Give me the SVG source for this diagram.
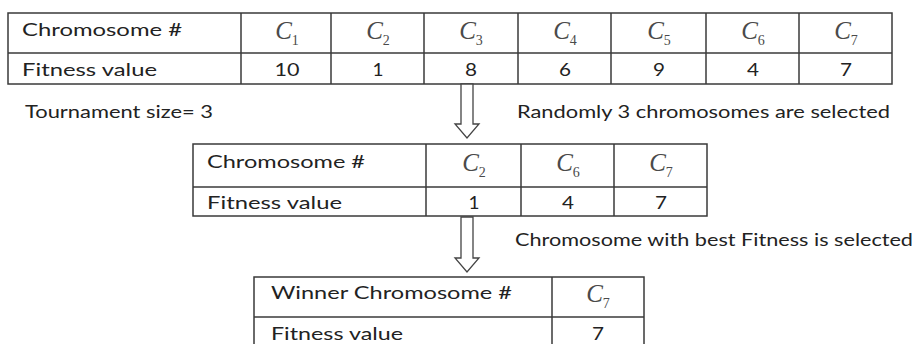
<svg xmlns="http://www.w3.org/2000/svg" width="919" height="344" viewBox="0 0 919 344">
<style>
.cell{fill:#ffffff;stroke:#3a3a3a;stroke-width:1.5}
.ln{stroke:#3a3a3a;stroke-width:1.5;fill:none}
.t{font-family:Lato,"Liberation Sans",sans-serif;font-size:18px;fill:#222222}
.n{font-family:Lato,"Liberation Sans",sans-serif;font-size:18px;fill:#222222;text-anchor:middle}
.c{font-family:"Liberation Serif","Times New Roman",serif;font-style:italic;font-size:25px;fill:#4a4a4a;text-anchor:middle}
.s{font-style:normal;font-size:14px}
.arrow{fill:#ffffff;stroke:#444444;stroke-width:1.3;stroke-linejoin:miter}
</style>
<rect width="919" height="344" fill="#ffffff"/>

<g id="table-population">
<rect class="cell" x="8" y="13" width="884" height="71"/>
<line class="ln" x1="8" y1="53" x2="892" y2="53"/>
<line class="ln" x1="241" y1="13" x2="241" y2="84"/>
<line class="ln" x1="331" y1="13" x2="331" y2="84"/>
<line class="ln" x1="424" y1="13" x2="424" y2="84"/>
<line class="ln" x1="518" y1="13" x2="518" y2="84"/>
<line class="ln" x1="611" y1="13" x2="611" y2="84"/>
<line class="ln" x1="706" y1="13" x2="706" y2="84"/>
<line class="ln" x1="799" y1="13" x2="799" y2="84"/>
<text class="t" x="22" y="36" textLength="160" lengthAdjust="spacingAndGlyphs">Chromosome #</text>
<text class="t" x="22" y="76" textLength="135" lengthAdjust="spacingAndGlyphs">Fitness value</text>
<text class="c" x="287" y="39">C<tspan class="s" dy="6">1</tspan></text>
<text class="c" x="378" y="39">C<tspan class="s" dy="6">2</tspan></text>
<text class="c" x="471" y="39">C<tspan class="s" dy="6">3</tspan></text>
<text class="c" x="565" y="39">C<tspan class="s" dy="6">4</tspan></text>
<text class="c" x="659" y="39">C<tspan class="s" dy="6">5</tspan></text>
<text class="c" x="753" y="39">C<tspan class="s" dy="6">6</tspan></text>
<text class="c" x="846" y="39">C<tspan class="s" dy="6">7</tspan></text>
<text class="n" x="287" y="76" textLength="25" lengthAdjust="spacingAndGlyphs">10</text>
<text class="n" x="378" y="76" textLength="11" lengthAdjust="spacingAndGlyphs">1</text>
<text class="n" x="471" y="76" textLength="12" lengthAdjust="spacingAndGlyphs">8</text>
<text class="n" x="565" y="76" textLength="12" lengthAdjust="spacingAndGlyphs">6</text>
<text class="n" x="659" y="76" textLength="12" lengthAdjust="spacingAndGlyphs">9</text>
<text class="n" x="753" y="76" textLength="12" lengthAdjust="spacingAndGlyphs">4</text>
<text class="n" x="846" y="76" textLength="12" lengthAdjust="spacingAndGlyphs">7</text>
</g>

<g id="table-tournament">
<rect class="cell" x="193" y="144" width="514" height="72"/>
<line class="ln" x1="193" y1="187" x2="707" y2="187"/>
<line class="ln" x1="426" y1="144" x2="426" y2="216"/>
<line class="ln" x1="521" y1="144" x2="521" y2="216"/>
<line class="ln" x1="614" y1="144" x2="614" y2="216"/>
<text class="t" x="207" y="168" textLength="158" lengthAdjust="spacingAndGlyphs">Chromosome #</text>
<text class="t" x="207" y="209" textLength="135" lengthAdjust="spacingAndGlyphs">Fitness value</text>
<text class="c" x="474" y="171">C<tspan class="s" dy="6">2</tspan></text>
<text class="c" x="568" y="171">C<tspan class="s" dy="6">6</tspan></text>
<text class="c" x="661" y="171">C<tspan class="s" dy="6">7</tspan></text>
<text class="n" x="474" y="209" textLength="11" lengthAdjust="spacingAndGlyphs">1</text>
<text class="n" x="568" y="209" textLength="12" lengthAdjust="spacingAndGlyphs">4</text>
<text class="n" x="661" y="209" textLength="12" lengthAdjust="spacingAndGlyphs">7</text>
</g>

<g id="table-winner">
<rect class="cell" x="254" y="277" width="390" height="72"/>
<line class="ln" x1="254" y1="317" x2="644" y2="317"/>
<line class="ln" x1="552" y1="277" x2="552" y2="349"/>
<text class="t" x="271" y="299" textLength="241" lengthAdjust="spacingAndGlyphs">Winner Chromosome #</text>
<text class="t" x="271" y="340" textLength="132" lengthAdjust="spacingAndGlyphs">Fitness value</text>
<text class="c" x="598" y="302">C<tspan class="s" dy="6">7</tspan></text>
<text class="n" x="598" y="340" textLength="12" lengthAdjust="spacingAndGlyphs">7</text>
</g>

<g id="connectors">
<path class="arrow" d="M461,84 L473,84 L473,124 L479,124 L467,138 L455,124 L461,124 Z"/>
<path class="arrow" d="M461,217 L473,217 L473,258 L479,258 L467,272 L455,258 L461,258 Z"/>
</g>

<g id="labels">
<text class="t" x="25" y="118" textLength="188" lengthAdjust="spacingAndGlyphs">Tournament size= 3</text>
<text class="t" x="517" y="118" textLength="373" lengthAdjust="spacingAndGlyphs">Randomly 3 chromosomes are selected</text>
<text class="t" x="515" y="246" textLength="398" lengthAdjust="spacingAndGlyphs">Chromosome with best Fitness is selected</text>
</g>
</svg>
